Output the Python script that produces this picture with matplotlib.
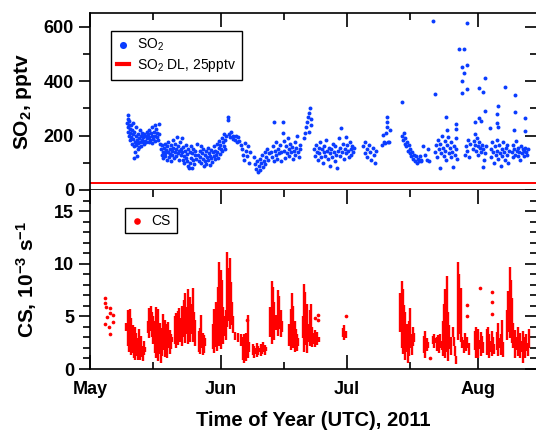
import matplotlib.pyplot as plt

plt.rcParams['font.family'] = ['Liberation Sans', 'DejaVu Sans']
plt.rcParams['font.weight'] = 'bold'
plt.rcParams['axes.labelweight'] = 'bold'
plt.rcParams['mathtext.default'] = 'regular'

# x axis: days since 1 May 2011
months = ['May', 'Jun', 'Jul', 'Aug']
month_day = [0, 31, 61, 92]
mid_day = [15, 46, 76]

so2_dl = 25

# SO2 (pptv)
so2_day = [
    8.8, 8.9, 9.0, 9.0, 9.1, 9.2, 9.3, 9.3, 9.4, 9.5, 9.6, 9.7, 9.8, 9.9, 10.0, 10.1, 10.2, 10.3,
    10.4, 10.5, 10.5, 10.6, 10.7, 10.8, 10.9, 11.0, 11.1, 11.2, 11.3, 11.4, 11.5, 11.6, 11.7, 11.8,
    11.9, 12.0, 12.1, 12.3, 12.4, 12.5, 12.6, 12.8, 12.9, 13.0, 13.2, 13.3, 13.4, 13.6, 13.7, 13.9,
    14.0, 14.1, 14.3, 14.4, 14.6, 14.7, 14.8, 15.0, 15.1, 15.3, 15.4, 15.5, 15.7, 15.8, 16.0, 16.1,
    16.3, 16.4, 16.5,
    16.9, 17.0, 17.1, 17.3, 17.4, 17.5, 17.7, 17.8, 17.9, 18.1, 18.2, 18.3, 18.5, 18.6, 18.7, 18.9,
    19.0, 19.1, 19.3, 19.4, 19.5, 19.7, 19.8, 19.9, 20.1, 20.2, 20.4, 20.5, 20.6, 20.8, 20.9, 21.0,
    21.2, 21.3, 21.5, 21.6, 21.7, 21.9, 22.0, 22.1, 22.3, 22.4, 22.5, 22.7, 22.8, 22.9, 23.1, 23.2,
    23.3, 23.5, 23.6, 23.7, 23.9, 24.0, 24.1, 24.3, 24.4, 24.5, 24.7, 24.8, 25.0, 25.1, 25.3,
    25.6, 25.8, 26.0, 26.1, 26.3, 26.4, 26.6, 26.7, 26.9, 27.0, 27.2, 27.3, 27.5, 27.6, 27.8, 27.9,
    28.1, 28.2, 28.4, 28.5, 28.7, 28.8, 29.0, 29.1, 29.3, 29.4, 29.6, 29.7, 29.9, 30.0, 30.2, 30.3,
    30.5, 30.6, 30.8, 30.9, 31.1, 31.2, 31.4, 31.5, 31.7, 31.8, 32.0, 32.1, 32.3, 32.7, 32.8,
    33.0, 33.3, 33.5, 33.8, 34.0, 34.3, 34.6, 34.9, 35.2, 35.4, 35.7, 36.0, 36.3, 36.5, 36.8, 37.0,
    37.3, 37.5, 37.8, 38.0,
    39.0, 39.2, 39.4, 39.6, 39.8, 40.0, 40.2, 40.4, 40.6, 40.8, 41.0, 41.2, 41.4, 41.6, 41.8, 42.0,
    42.2, 42.4,
    43.0, 43.2, 43.4, 43.6, 43.6, 43.8, 44.0, 44.2, 44.4, 44.6, 44.8, 45.0, 45.2, 45.4, 45.7, 45.7,
    45.9, 46.1, 46.3, 46.5, 46.7, 46.9, 47.1, 47.3, 47.5, 47.7, 47.9, 48.1, 48.3, 48.5, 48.7, 48.9,
    49.1, 49.3, 49.5, 49.7, 49.9,
    50.8, 51.0, 51.3, 51.5, 51.8, 51.9, 52.0, 52.1, 52.3, 52.5,
    53.2, 53.4, 53.6, 53.8, 54.0, 54.2, 54.4, 54.6, 54.8, 55.0, 55.2, 55.4, 55.6, 55.8, 56.0, 56.2,
    56.4, 56.6, 56.8, 57.0, 57.2, 57.4, 57.6, 57.8, 58.0, 58.2, 58.4, 58.6, 58.8, 59.0, 59.2, 59.4,
    59.6, 59.8, 60.0, 60.2, 60.4, 60.6, 60.8, 61.0, 61.2, 61.4, 61.6, 61.8, 62.0, 62.2, 62.4, 62.6,
    64.8, 65.1, 65.3, 65.6, 65.8, 66.1, 66.4, 66.7, 67.0, 67.3, 67.6, 67.9,
    69.2, 69.4, 69.8, 70.3, 70.4, 70.4, 70.4, 70.0, 70.7, 71.0, 71.2,
    73.9, 74.0, 74.2, 74.4, 74.6, 74.8, 75.0, 75.2, 75.4, 75.6, 75.8, 76.0, 76.2, 76.4, 76.6, 76.8,
    77.0, 77.2, 77.5, 77.8, 78.1, 78.5,
    78.3, 78.6, 79.0, 79.4, 79.8, 80.2, 80.5,
    81.3, 81.8, 89.3, 87.5, 88.6, 88.1, 89.3, 88.6, 88.2, 88.1, 89.3, 93.6, 92.2, 93.2, 98.5, 100.7,
    96.7, 103.1, 93.6, 100.7, 103.1, 84.4, 84.6, 86.9, 86.8, 91.2, 92.2, 92.8, 96.6, 96.6, 96.7,
    94.9, 100.5,
    81.9, 82.1, 82.3, 82.5, 82.7, 82.9, 83.1, 83.3, 83.5, 83.7, 83.9, 84.1, 84.3, 84.5, 84.7, 84.9,
    85.1, 85.3, 85.5, 85.7, 85.9, 86.1, 86.3, 86.5, 86.7, 86.9, 87.1,
    89.0, 89.2, 89.4, 89.6, 89.8, 90.0,
    90.8, 91.0, 91.2, 91.3, 91.5, 91.7, 91.9, 92.1, 92.3, 92.5, 92.7, 92.9, 93.1, 93.3, 93.5, 93.7,
    93.9,
    95.0, 95.2, 95.4, 95.6, 95.8, 96.0, 96.2, 96.4, 96.6, 96.8, 97.0, 97.2, 97.4, 97.6, 97.8, 98.0,
    98.2, 98.4, 98.6, 98.8, 99.0, 99.2, 99.4,
    100.0, 100.2, 100.4, 100.6, 100.8, 101.0, 101.2, 101.4, 101.6, 101.8, 102.0, 102.2, 102.4,
    102.6, 102.8, 103.0, 103.2, 103.4, 103.6, 103.8,
]
so2_ppt = [
    248, 262, 276, 230, 215, 240, 255, 200, 225, 185, 210, 238, 195, 220, 170, 205, 248, 188,
    160, 215, 118, 178, 140, 198, 230, 165, 185, 125, 150, 205, 172, 158, 190, 220,
    178, 200, 162, 185, 210, 175, 195, 168, 205, 182, 198, 175, 215, 190, 205, 178,
    220, 195, 185, 208, 172, 230, 198, 188, 212, 240, 200, 180, 225, 195, 210, 185,
    242, 205, 170,
    150, 130, 165, 140, 118, 155, 135, 170, 125, 148, 110, 160, 138, 178, 120, 150,
    132, 165, 108, 145, 128, 185, 155, 118, 140, 170, 125, 150, 195, 135, 160, 112,
    145, 175, 128, 150, 190, 138, 110, 158, 125, 98, 145, 118, 165, 132, 105, 150,
    88, 81, 140, 100, 160, 118, 82, 135, 110, 150, 95, 128, 145, 115, 170,
    130, 108, 145, 120, 160, 98, 135, 115, 150, 88, 128, 105, 142, 95, 120, 155,
    110, 135, 92, 125, 148, 118, 102, 138, 125, 160, 115, 145, 130, 170, 140, 118,
    155, 180, 132, 165, 150, 190, 142, 175, 205, 160, 185, 150, 200, 258, 270,
    205, 195, 212, 200, 188, 185, 198, 175, 195, 182, 165, 150, 130, 110, 172, 145,
    125, 160, 100, 140,
    120, 95, 78, 105, 65, 88, 115, 72, 98, 130, 85, 108, 140, 95, 120, 150,
    110, 135,
    140, 120, 160, 250, 105, 145, 130, 175, 115, 150, 135, 165, 108, 140, 250, 210,
    180, 145, 118, 160, 135, 190, 150, 125, 170, 140, 158, 115, 145, 175, 130, 155,
    200, 140, 120, 165, 150,
    190, 210, 230, 250, 270, 215, 285, 300, 260, 240,
    150, 125, 165, 140, 110, 155, 135, 175, 120, 150, 100, 140, 160, 125, 185, 145,
    115, 155, 135, 90, 150, 120, 170, 140, 105, 160, 130, 80, 145, 190, 125, 155,
    228, 140, 170, 115, 150, 195, 135, 165, 145, 120, 175, 150, 130, 160, 140, 155,
    160, 135, 175, 150, 120, 165, 140, 110, 155, 130, 100, 145,
    166, 202, 178, 208, 270, 251, 233, 172, 178, 178, 221,
    324, 200, 185, 210, 170, 190, 160, 175, 145, 165, 135, 150, 125, 140, 115, 130,
    108, 125, 100, 115, 105, 112,
    125, 108, 160, 130, 112, 150, 105,
    620, 353, 613, 518, 520, 454, 460, 432, 402, 356, 371, 411, 374, 359, 379, 350,
    310, 264, 292, 288, 217, 270, 221, 242, 223, 251, 264, 254, 279, 245, 233,
    229, 221,
    140, 165, 120, 185, 150, 81, 170, 135, 200, 155, 125, 180, 145, 110, 165, 195,
    135, 155, 120, 175, 140, 85, 160, 130, 190, 150, 115,
    130, 160, 145, 185, 120, 170,
    150, 180, 165, 205, 145, 190, 160, 130, 175, 155, 140, 165, 86, 150, 110, 135,
    160,
    150, 120, 175, 140, 100, 160, 130, 185, 145, 115, 165, 135, 90, 150, 125, 175,
    140, 110, 155, 130, 165, 100, 145,
    140, 120, 165, 150, 130, 180, 145, 125, 155, 140, 110, 160, 135,
    150, 145, 125, 155, 140, 130, 150,
]

# CS (1e-3 s^-1): dense streaks (day, low, high) and isolated points
cs_day = [
    8.6, 8.9, 9.2, 9.5, 9.8, 10.1, 10.4, 10.7, 11.0, 11.3, 11.6, 11.9, 12.2, 12.5, 12.8, 13.1,
    13.8, 14.1, 14.4, 14.7, 15.0, 15.3, 15.6, 15.9, 16.2, 16.5, 16.8, 17.1, 17.4, 17.7, 18.0, 18.3,
    18.6, 18.9, 19.2, 19.5,
    20.2, 20.5, 20.8, 21.1, 21.4, 21.7, 22.0, 22.3, 22.6, 22.9, 23.2, 23.5, 23.8, 24.1, 24.4, 24.7,
    25.0, 25.8, 26.1, 26.4, 26.7, 27.0, 27.3,
    29.2, 29.5, 29.8, 30.1, 30.4, 30.7, 31.0, 31.3, 31.6, 31.9, 32.2, 32.5, 32.8, 33.1, 33.4, 33.7,
    34.0, 34.5, 35.2, 35.8, 36.3, 36.6, 36.9, 37.2, 37.5, 37.8,
    38.7, 39.0, 39.3, 39.6, 39.9, 40.2, 40.5, 40.8, 41.1, 41.4, 41.7,
    42.8, 43.1, 43.4, 43.7, 44.0, 44.6, 44.9, 45.2, 45.5,
    47.3, 47.6, 47.9, 48.2, 48.5, 48.8, 49.1, 49.4,
    50.5, 50.8, 51.1, 51.4, 51.7, 52.1, 52.4, 52.7, 53.0, 53.3, 53.6, 53.9, 54.2,
    60.0, 60.3, 60.6,
    73.6, 73.9, 74.2, 74.5, 74.8, 75.1, 75.4, 75.7, 76.0, 76.3, 76.6, 76.9,
    79.2, 79.5, 79.8, 80.1,
    81.3, 81.6, 81.9, 82.2, 82.5, 82.8, 83.1, 83.4, 83.7, 84.0, 84.3, 84.6, 84.9, 85.2, 85.5,
    86.0, 86.3, 86.6, 86.9, 87.3, 87.6, 87.9, 88.3, 88.6, 88.9, 89.2, 89.5, 89.8,
    91.2, 91.5, 91.8, 92.1, 92.4, 92.7, 93.0, 93.3,
    94.1, 94.4, 94.7, 95.0, 95.3, 95.6, 95.9, 96.5, 96.8, 97.1, 97.4, 97.7, 98.0,
    98.9, 99.2, 99.5, 99.8, 100.1, 100.4, 100.8, 101.1, 101.4, 101.7, 102.0, 102.3, 102.6, 102.9,
    103.2, 103.5, 103.8, 104.1,
]
cs_lo = [
    3.6, 2.2, 1.6, 1.9, 1.3, 1.5, 1.0, 0.9, 1.2, 0.9, 1.1, 0.9, 1.1, 0.8, 1.3, 1.6,
    3.4, 2.9, 3.6, 3.0, 2.4, 1.5, 1.0, 1.3, 0.8, 1.4, 0.6, 1.2, 1.8, 1.1, 1.6, 1.0,
    2.0, 1.4, 1.9, 2.6,
    2.4, 2.0, 2.3, 2.9, 2.6, 2.2, 3.5, 3.0, 2.5, 3.3, 2.4, 3.1, 2.6, 3.3, 2.6, 3.0,
    2.2, 1.6, 1.4, 2.0, 1.3, 1.5, 2.2,
    1.9, 1.5, 2.1, 1.7, 2.8, 2.2, 1.9, 3.0, 2.4, 3.1, 2.8, 4.0, 4.6, 3.8, 5.0, 4.2,
    3.4, 2.8, 2.6, 2.2, 0.9, 0.6, 0.8, 1.3, 1.0, 1.6,
    1.3, 1.0, 1.4, 1.1, 1.3, 1.6, 1.2, 1.4, 1.6, 1.3, 1.7,
    3.0, 2.4, 3.5, 2.8, 3.7, 3.1, 3.8, 3.0, 3.5,
    2.2, 1.8, 2.6, 2.0, 1.6, 2.4, 1.7, 2.2,
    2.9, 1.6, 2.3, 1.5, 2.6, 2.2, 2.8, 2.1, 2.4, 2.1, 2.5, 2.3, 2.6,
    3.0, 2.8, 2.9,
    3.5, 2.0, 1.4, 2.7, 0.9, 1.6, 0.6, 1.2, 2.0, 1.3, 2.2, 2.6,
    1.5, 1.0, 1.7, 2.0,
    2.4, 2.0, 2.5, 1.7, 2.2, 1.5, 2.0, 1.8, 1.2, 2.1, 1.0, 1.6, 0.8, 1.9, 1.3,
    3.0, 2.2, 1.2, 0.5, 2.8, 3.3, 2.6, 2.0, 1.5, 2.2, 1.7, 2.0, 1.3,
    1.8, 1.0, 1.6, 1.0, 1.9, 1.2, 2.0, 1.5,
    1.3, 2.1, 1.0, 1.6, 1.2, 2.0, 1.4, 1.8, 1.2, 2.0, 1.3, 1.8, 1.1,
    2.8, 3.5, 2.9, 3.3, 2.5, 2.0, 1.0, 1.8, 1.2, 2.0, 1.0, 1.6, 0.6, 1.4,
    1.0, 1.7, 1.2, 2.0,
]
cs_hi = [
    4.4, 5.6, 5.3, 5.7, 4.8, 4.2, 3.6, 4.0, 3.4, 2.9, 3.8, 2.5, 3.1, 2.2, 2.7, 2.1,
    4.6, 5.8, 6.0, 5.4, 5.0, 4.6, 5.9, 4.9, 5.7, 4.4, 3.9, 3.6, 5.2, 4.7, 4.3, 3.9,
    4.5, 3.7, 3.3, 3.0,
    5.0, 5.3, 5.5, 5.8, 4.8, 6.0, 5.3, 6.6, 7.2, 5.9, 7.6, 5.2, 6.8, 6.2, 7.7, 5.4,
    4.7, 3.6, 3.9, 5.1, 3.4, 3.2, 2.9,
    4.3, 5.7, 6.4, 5.4, 7.8, 10.2, 9.4, 8.5, 5.9, 5.0, 5.6, 11.1, 9.6, 10.5, 8.3, 6.4,
    5.0, 3.5, 3.4, 3.3, 3.0, 3.3, 3.4, 2.9, 5.1, 2.6,
    2.4, 2.2, 2.0, 2.5, 2.2, 2.0, 2.4, 2.1, 2.6, 2.3, 2.1,
    5.9, 8.4, 7.8, 6.4, 5.1, 7.5, 6.9, 5.6, 4.6,
    4.3, 5.7, 7.2, 6.0, 4.6, 3.8, 3.3, 2.9,
    5.0, 8.1, 7.3, 6.2, 4.3, 5.6, 6.2, 4.0, 3.4, 3.7, 3.2, 3.5, 3.0,
    3.9, 4.2, 3.6,
    7.2, 8.4, 7.6, 6.1, 5.4, 4.3, 3.8, 4.6, 5.8, 3.3, 4.0, 3.4,
    3.1, 3.6, 2.9, 2.6,
    3.1, 3.3, 2.9, 3.0, 3.2, 2.6, 3.3, 2.7, 4.6, 6.2, 7.6, 8.8, 5.4, 4.2, 3.0,
    4.0, 3.0, 2.2, 1.2, 10.2, 9.0, 7.7, 3.0, 2.8, 3.4, 2.6, 3.0, 2.5,
    3.6, 4.0, 3.3, 3.8, 2.8, 3.5, 3.1, 2.6,
    3.8, 4.0, 3.3, 2.7, 3.6, 3.0, 2.4, 3.5, 4.4, 2.9, 3.3, 4.7, 2.6,
    5.6, 7.4, 9.7, 8.5, 6.7, 4.4, 3.7, 3.0, 4.0, 2.9, 3.4, 2.7, 3.6, 3.0,
    2.6, 3.3, 2.5, 3.8,
]
cs_pt_day = [3.55, 3.55, 3.7, 3.55, 3.95, 4.7, 4.7, 4.6, 4.7, 5.5, 5.5,
             37.3, 53.3, 54.1, 54.1, 60.6, 89.4, 89.5, 92.4, 95.4, 95.4, 95.4, 80.7]
cs_pt_val = [6.7, 6.25, 5.9, 4.3, 4.9, 5.75, 5.3, 4.0, 3.3, 5.1, 4.5,
             4.7, 4.8, 5.1, 4.7, 5.0, 6.1, 5.0, 7.7, 7.3, 6.4, 5.2, 1.0]

blue = '#0a3cff'
red = '#ff0000'

fig = plt.figure(figsize=(5.36, 4.34), dpi=100)
ax1 = fig.add_axes([90 / 536, 1 - 190 / 434, 447 / 536, 177 / 434])
ax2 = fig.add_axes([90 / 536, 1 - 369 / 434, 447 / 536, 179 / 434])

# top panel: SO2
ax1.scatter(so2_day, so2_ppt, s=8, color=blue, lw=0, label='SO$_2$')
ax1.axhline(so2_dl, color=red, lw=1.4, label='SO$_2$ DL, 25pptv')
ax1.set_xlim(0, 106)
ax1.set_ylim(0, 651)
ax1.set_yticks([0, 200, 400, 600])
ax1.set_yticks([100, 300, 500], minor=True)
ax1.set_ylabel('SO$_2$, pptv', fontsize=15, fontweight='bold', labelpad=7)

# bottom panel: CS
ax2.vlines(cs_day, cs_lo, cs_hi, color=red, lw=1.7)
ax2.scatter(cs_pt_day, cs_pt_val, s=7, color=red, lw=0, label='CS')
ax2.set_xlim(0, 106)
ax2.set_ylim(0, 17)
ax2.set_yticks([0, 5, 10, 15])
ax2.set_yticks(range(1, 17), minor=True)
ax2.set_ylabel('CS, 10$^{-3}$ s$^{-1}$', fontsize=15, fontweight='bold', labelpad=11)
ax2.set_xlabel('Time of Year (UTC), 2011', fontsize=14.5, fontweight='bold', labelpad=9)
ax2.spines['top'].set_visible(False)

for ax in (ax1, ax2):
    ax.set_xticks(month_day)
    ax.set_xticks(mid_day, minor=True)
    ax.tick_params(axis='y', which='both', direction='out', width=1.2, labelsize=13)
    ax.tick_params(axis='y', which='major', length=8)
    ax.tick_params(axis='y', which='minor', length=5)
    ax.tick_params(axis='x', which='both', direction='in', width=1.2, labelsize=13, pad=9)
    ax.tick_params(axis='x', which='major', length=10)
    ax.tick_params(axis='x', which='minor', length=5)
    for s in ax.spines.values():
        s.set_linewidth(1.2)
    # inward ticks on the right side
    sec = ax.secondary_yaxis('right')
    sec.set_yticks(ax.get_yticks())
    sec.set_yticks(ax.get_yticks(minor=True), minor=True)
    sec.tick_params(which='both', direction='in', labelright=False, width=1.2)
    sec.tick_params(which='major', length=9)
    sec.tick_params(which='minor', length=5)

ax1.tick_params(axis='x', which='both', top=True, bottom=False, labelbottom=False)
ax2.tick_params(axis='x', which='both', top=True, bottom=True)
ax2.set_xticklabels(months)

leg_font = {'weight': 'normal', 'size': 10}
leg1 = ax1.legend(loc='upper left', bbox_to_anchor=(0.047, 0.898), borderaxespad=0,
                  fancybox=False, edgecolor='black', framealpha=1, prop=leg_font,
                  handlelength=0.9, handletextpad=0.6, markerscale=1.8, labelspacing=0.3)
leg1.get_frame().set_linewidth(1.0)
for h in leg1.get_lines():
    h.set_linewidth(3.0)
leg2 = ax2.legend(loc='upper left', bbox_to_anchor=(0.079, 0.899), borderaxespad=0,
                  fancybox=False, edgecolor='black', framealpha=1, prop=leg_font,
                  handlelength=0.9, handletextpad=0.6, markerscale=1.8)
leg2.get_frame().set_linewidth(1.0)

fig.savefig('out.png', dpi=100)
